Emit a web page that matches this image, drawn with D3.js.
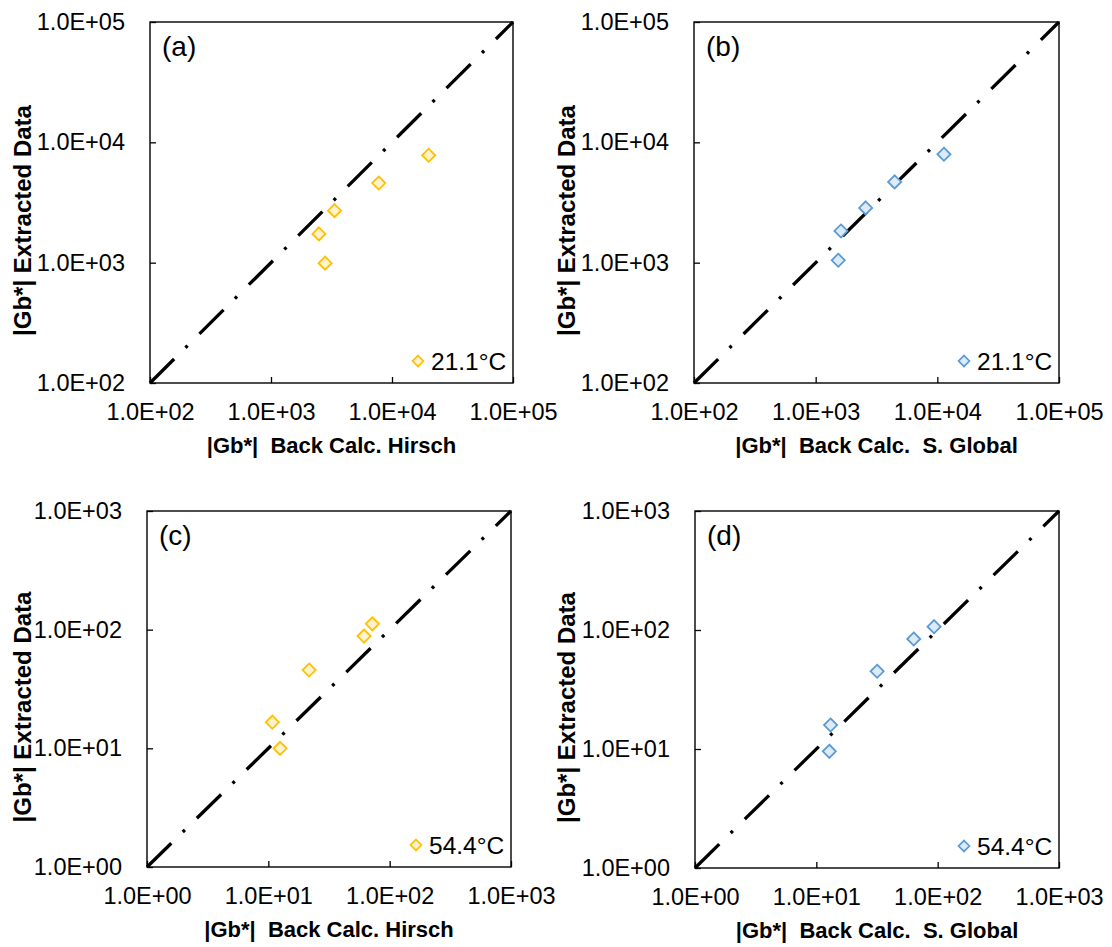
<!DOCTYPE html>
<html>
<head>
<meta charset="utf-8">
<script src="https://cdn.jsdelivr.net/npm/d3@7"></script>
<style>
  body { margin: 0; background: #fff; }
  svg { font-family: Arial, "Liberation Sans", sans-serif; }
</style>
</head>
<body>
<div id="chart"></div>
<script>
// valores
const hirsch21X = [20100, 7770, 3350, 2490, 2800];
const hirsch21Y = [7810, 4590, 2705, 1733, 990];
const global21X = [11330, 4460, 2575, 1614, 1534];
const global21Y = [7960, 4690, 2850, 1834, 1047];
const hirsch54X = [72, 61.5, 21.7, 10.8, 12.5];
const hirsch54Y = [112, 88.3, 45.7, 16.6, 10.0];
const global54X = [93.4, 63.5, 31.7, 13.1, 12.8];
const global54Y = [106.6, 84, 45, 15.9, 9.56];

const ticksTopo = [1e2, 1e3, 1e4, 1e5];
const ticksBaixo = [1e0, 1e1, 1e2, 1e3];

const paineis = [
  {rotulo: "(a)", x: hirsch21X, y: hirsch21Y, ticks: ticksTopo, legenda: "21.1°C", tituloX: "|Gb*|  Back Calc. Hirsch",
   cor: "#FFC000", fundo: "#FFF2CC", left: 150, top: 22, w: 363, h: 361, tituloY: 31},
  {rotulo: "(b)", x: global21X, y: global21Y, ticks: ticksTopo, legenda: "21.1°C", tituloX: "|Gb*|  Back Calc.  S. Global",
   cor: "#5B9BD5", fundo: "#DDEBF7", left: 694, top: 22, w: 365, h: 361, tituloY: 575},
  {rotulo: "(c)", x: hirsch54X, y: hirsch54Y, ticks: ticksBaixo, legenda: "54.4°C", tituloX: "|Gb*|  Back Calc. Hirsch",
   cor: "#FFC000", fundo: "#FFF2CC", left: 147, top: 511, w: 364, h: 356, tituloY: 31},
  {rotulo: "(d)", x: global54X, y: global54Y, ticks: ticksBaixo, legenda: "54.4°C", tituloX: "|Gb*|  Back Calc.  S. Global",
   cor: "#5B9BD5", fundo: "#DDEBF7", left: 695, top: 511, w: 364, h: 357, tituloY: 575}
];

const formato = d => d.toExponential(1).toUpperCase().replace(/E([+-])(\d)$/, "E$10$2");

const svg = d3.select("#chart").append("svg")
  .attr("width", 1112)
  .attr("height", 947);

const losango = d3.symbol().type(d3.symbolDiamond2);

paineis.forEach(p => {
  const g = svg.append("g").attr("transform", `translate(${p.left},${p.top})`);
  const dominio = [p.ticks[0], p.ticks[p.ticks.length - 1]];
  const escX = d3.scaleLog().domain(dominio).range([0, p.w]);
  const escY = d3.scaleLog().domain(dominio).range([p.h, 0]);

  // eixos com ticks para dentro
  const eixoX = g.append("g").attr("transform", `translate(0,${p.h})`)
    .call(d3.axisBottom(escX).tickValues(p.ticks).tickFormat(formato).tickSizeInner(-6).tickSizeOuter(0).tickPadding(20));
  const eixoY = g.append("g")
    .call(d3.axisLeft(escY).tickValues(p.ticks).tickFormat(formato).tickSizeInner(-6).tickSizeOuter(0).tickPadding(25));
  [eixoX, eixoY].forEach(e => {
    e.select(".domain").remove();
    e.selectAll("line").attr("stroke", "#000").attr("stroke-width", 1.3);
    e.selectAll("text").attr("font-size", 23.5).attr("fill", "#000").attr("font-family", "Arial, 'Liberation Sans', sans-serif");
  });

  // linha de igualdade
  g.append("line")
    .attr("x1", escX(dominio[0])).attr("y1", escY(dominio[0]))
    .attr("x2", escX(dominio[1])).attr("y2", escY(dominio[1]))
    .attr("stroke", "#000")
    .attr("stroke-width", 3.3)
    .attr("stroke-dasharray", "34,16,3,16.7");

  // pontos
  g.selectAll(".ponto")
    .data(p.x.map((v, i) => ({x: v, y: p.y[i]})))
    .join("path")
    .attr("class", "ponto")
    .attr("transform", d => `translate(${escX(d.x)},${escY(d.y)})`)
    .attr("d", losango.size(110))
    .attr("fill", p.fundo)
    .attr("stroke", p.cor)
    .attr("stroke-width", 1.8);

  // moldura
  g.append("rect")
    .attr("width", p.w).attr("height", p.h)
    .attr("fill", "none").attr("stroke", "#000").attr("stroke-width", 1.4);

  // rótulo do painel
  g.append("text")
    .attr("x", 12).attr("y", 34)
    .attr("font-size", 28)
    .text(p.rotulo);

  // legenda
  g.append("path")
    .attr("transform", `translate(${p.w - 95},${p.h - 22})`)
    .attr("d", losango.size(75))
    .attr("fill", p.fundo)
    .attr("stroke", p.cor)
    .attr("stroke-width", 1.7);
  g.append("text")
    .attr("x", p.w - 82).attr("y", p.h - 13)
    .attr("font-size", 24.5)
    .text(p.legenda);

  // títulos dos eixos
  g.append("text")
    .attr("x", p.w / 2).attr("y", p.h + 70)
    .attr("text-anchor", "middle")
    .attr("font-size", 22).attr("font-weight", "bold")
    .style("white-space", "pre")
    .text(p.tituloX);
  g.append("text")
    .attr("transform", `translate(${p.tituloY - p.left},${p.h / 2 + 18}) rotate(-90)`)
    .attr("text-anchor", "middle")
    .attr("font-size", 24).attr("font-weight", "bold")
    .style("white-space", "pre")
    .text("|Gb*| Extracted Data");
});
</script>
</body>
</html>
